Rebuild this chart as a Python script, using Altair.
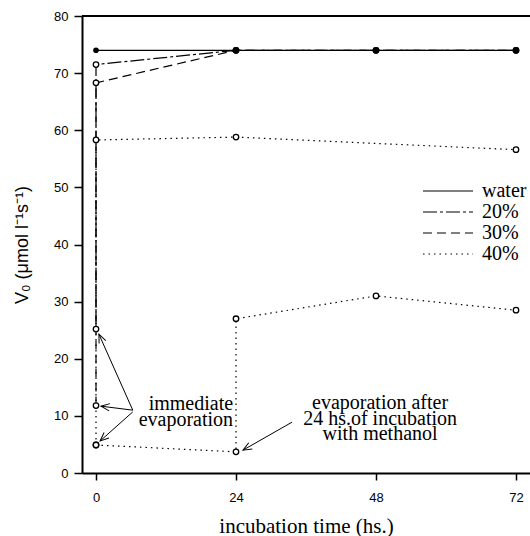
import math
import altair as alt
import pandas as pd

# ---- measured values -------------------------------------------------------
series_order = ["water", "20%", "30%", "40%"]

water_t = [0, 24, 48, 72]
water_v = [74, 74, 74, 74]

p20_t = [0, 0, 24, 48, 72]
p20_v = [25.2, 71.5, 74, 74, 74]

p30_t = [0, 0, 24, 48, 72]
p30_v = [11.8, 68.3, 74, 74, 74]

# 40 % methanol: immediate evaporation branch and 24 h incubation branch
p40a_t = [0, 0, 24, 72]
p40a_v = [4.9, 58.3, 58.8, 56.6]
p40b_t = [0, 24, 24, 48, 72]
p40b_v = [4.9, 3.7, 27.0, 31.0, 28.5]

x_ticks = [0, 24, 48, 72]
y_ticks = [0, 10, 20, 30, 40, 50, 60, 70, 80]

# annotation texts (data coordinates)
note_text = ["immediate\nevaporation",
             "evaporation after\n24 hs.of incubation\nwith methanol"]
note_t = [23.5, 48.7]
note_v = [11.0, 11.2]
note_align = ["right", "center"]

# arrows: start -> tip
arrow_t0 = [6.3, 6.3, 6.3, 33.6]
arrow_v0 = [11.0, 11.0, 10.7, 8.9]
arrow_t1 = [0.5, 0.85, 0.7, 25.2]
arrow_v1 = [24.3, 11.7, 5.6, 4.0]

# ---- layout ----------------------------------------------------------------
W, H = 448, 457
X_DOM = [-2.4, 74.4]
Y_DOM = [0, 80]
px_t = W / (X_DOM[1] - X_DOM[0])
px_v = H / (Y_DOM[1] - Y_DOM[0])

SERIF = "Liberation Serif"
SANS = "Liberation Sans"

# ---- tables ----------------------------------------------------------------
rows = []
def add_path(name, path_id, ts, vs):
    for i, (t, v) in enumerate(zip(ts, vs)):
        rows.append({"series": name, "path": path_id, "ord": i, "t": t, "v": v})

add_path("water", "w", water_t, water_v)
add_path("20%", "a", p20_t, p20_v)
add_path("30%", "b", p30_t, p30_v)
add_path("40%", "c", p40a_t, p40a_v)
add_path("40%", "d", p40b_t, p40b_v)
lines_df = pd.DataFrame(rows)

open_df = lines_df[lines_df["series"] != "water"]
filled_df = lines_df[lines_df["series"] == "water"]

notes_df = pd.DataFrame({"text": note_text, "t": note_t, "v": note_v,
                         "align": note_align})

arrows_df = pd.DataFrame({"t0": arrow_t0, "v0": arrow_v0,
                          "t1": arrow_t1, "v1": arrow_v1})
arrows_df["angle"] = [
    math.degrees(math.atan2(-(b1 - b0) * px_v, (a1 - a0) * px_t)) % 360
    for a0, b0, a1, b1 in zip(arrow_t0, arrow_v0, arrow_t1, arrow_v1)
]

# ---- scales ----------------------------------------------------------------
xs = alt.Scale(domain=X_DOM, nice=False, zero=False)
ys = alt.Scale(domain=Y_DOM, nice=False)

x_axis = alt.Axis(values=x_ticks, title="incubation time (hs.)", grid=False,
                  domainColor="black", domainWidth=2, tickColor="black",
                  tickWidth=1.5, tickSize=7, labelFont=SANS, labelFontSize=13,
                  labelColor="black", labelPadding=11, titleFont=SERIF,
                  titleFontSize=21, titleFontWeight="normal", titleColor="black",
                  titlePadding=11)
y_axis = alt.Axis(values=y_ticks, title="V₀ (μmol l⁻¹s⁻¹)", grid=False,
                  domainColor="black", domainWidth=2, tickColor="black",
                  tickWidth=1.5, tickSize=8, labelFont=SANS, labelFontSize=13,
                  labelColor="black", labelPadding=6, titleFont=SANS,
                  titleFontSize=18, titleFontWeight="normal", titleColor="black",
                  titlePadding=22)

dash_scale = alt.Scale(domain=series_order,
                       range=[[1, 0], [14, 3, 3, 3], [9, 5], [1.5, 4]])

# legend swatch: a 50 px stroke drawn mostly to the left of the symbol slot
legend_swatch = "M -9 0 H 1"

lines = alt.Chart(lines_df).mark_line(color="black", strokeWidth=1.2).encode(
    x=alt.X("t:Q", scale=xs, axis=x_axis),
    y=alt.Y("v:Q", scale=ys, axis=y_axis),
    detail="path:N",
    order="ord:Q",
    strokeDash=alt.StrokeDash(
        "series:N", scale=dash_scale,
        legend=alt.Legend(title=None, orient="none", legendX=376, legendY=165,
                          symbolType=legend_swatch, symbolSize=100,
                          symbolStrokeWidth=1.2, symbolStrokeColor="black",
                          symbolFillColor="transparent",
                          labelFont=SERIF, labelFontSize=20, labelColor="black",
                          labelOffset=4, rowPadding=1)),
)

open_pts = alt.Chart(open_df).mark_point(
    shape="circle", filled=True, fill="white", stroke="black",
    strokeWidth=1.3, size=30, opacity=1,
).encode(x=alt.X("t:Q", scale=xs), y=alt.Y("v:Q", scale=ys))

filled_pts = alt.Chart(filled_df).mark_point(
    shape="circle", filled=True, color="black", size=32, opacity=1,
).encode(x=alt.X("t:Q", scale=xs), y=alt.Y("v:Q", scale=ys))

top_frame = alt.Chart(notes_df).mark_rule(color="black", strokeWidth=2).encode(
    x=alt.value(0), x2=alt.value(W), y=alt.value(0))

arrow_shafts = alt.Chart(arrows_df).mark_rule(color="black", strokeWidth=1).encode(
    x=alt.X("t0:Q", scale=xs), y=alt.Y("v0:Q", scale=ys),
    x2="t1:Q", y2="v1:Q")

arrow_heads = alt.Chart(arrows_df).mark_point(
    shape="M -1 -0.42 L 0 0 L -1 0.42", filled=False, stroke="black",
    strokeWidth=1, size=300, opacity=1,
).encode(x=alt.X("t1:Q", scale=xs), y=alt.Y("v1:Q", scale=ys),
         angle=alt.Angle("angle:Q", scale=None))

notes_right = alt.Chart(notes_df[notes_df["align"] == "right"]).mark_text(
    font=SERIF, fontSize=20, align="right", baseline="alphabetic",
    lineBreak="\n", lineHeight=15.5, color="black",
).encode(x=alt.X("t:Q", scale=xs), y=alt.Y("v:Q", scale=ys), text="text:N")

notes_center = alt.Chart(notes_df[notes_df["align"] == "center"]).mark_text(
    font=SERIF, fontSize=20, align="center", baseline="alphabetic",
    lineBreak="\n", lineHeight=15.5, color="black",
).encode(x=alt.X("t:Q", scale=xs), y=alt.Y("v:Q", scale=ys), text="text:N")

chart = alt.layer(
    lines, arrow_shafts, arrow_heads, open_pts, filled_pts,
    notes_right, notes_center, top_frame,
).properties(
    width=W, height=H,
    padding={"left": 82, "top": 16, "right": 0, "bottom": 63},
    autosize=alt.AutoSizeParams(type="none"),
    background="white",
).configure_view(stroke=None)

chart.save("out.html", embed_options={"renderer": "svg", "actions": False})
